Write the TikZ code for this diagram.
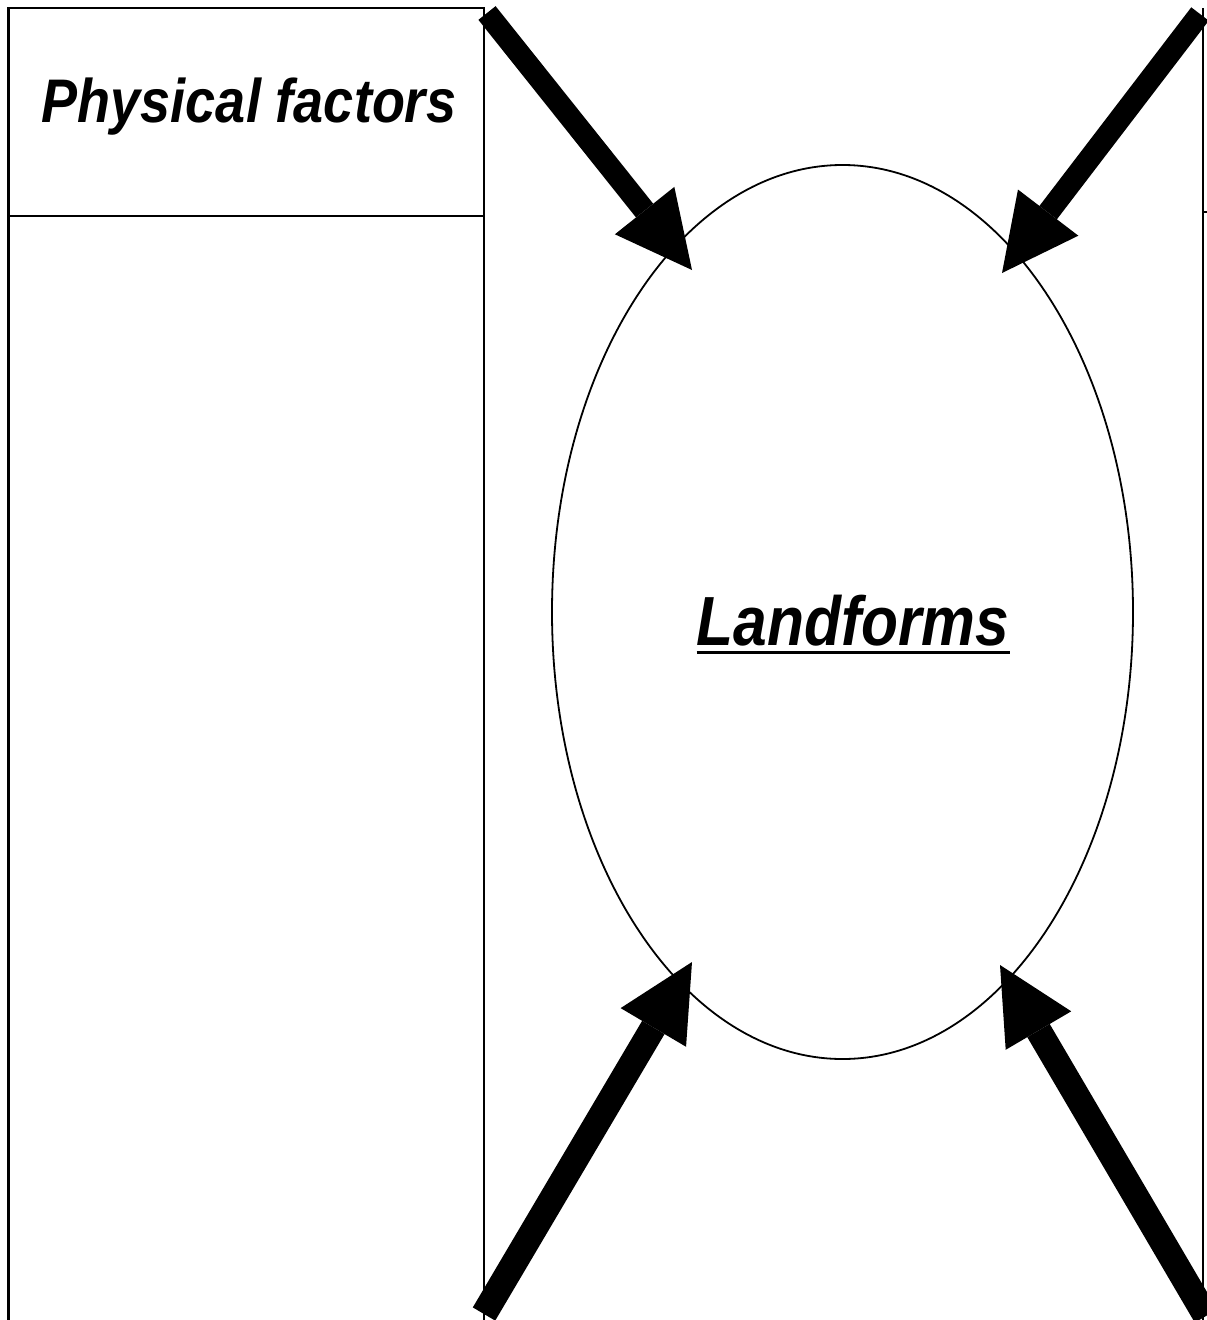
\documentclass[tikz,border=0pt]{standalone}
\usepackage{fontspec}
\setmainfont{Liberation Sans}
\usetikzlibrary{shapes.geometric,arrows.meta}
\tikzset{
  frame/.style={line width=2.8pt},
  bigarrow/.style={line width=22pt,-{Triangle[length=76pt,width=76pt,line width=0pt]}},
  label/.style={inner sep=0pt,font=\bfseries\itshape},
}
\begin{document}
\begin{tikzpicture}[x=1pt,y=-1pt]
\useasboundingbox (0,0) rectangle (1207,1320);
% left frame
\draw[frame] (8.5,1322) -- (8.5,8) -- (484,8) -- (484,1322);
\draw[frame] (8.5,216) -- (484,216);
% right line
\draw[line width=2.2pt] (1203,8) -- (1203,1322);
\draw[line width=2.5pt] (1203,212) -- (1209,212);
% header text
\node[label,anchor=base] (pf) at (249,122) {\scalebox{1}[1.14]{\fontsize{54}{60}\selectfont Physical factors}};
% ellipse
\node[ellipse,draw,line width=1.8pt,minimum width=581pt,minimum height=894pt,inner sep=0pt] (land) at (842.5,612) {};
\node[label,anchor=base] (lf) at (853,645) {\scalebox{1}[1.15]{\fontsize{60.5}{66}\selectfont Landforms}};
\draw[line width=3pt] (lf.base west |- 0,652) -- (lf.base east |- 0,652);
% arrow coordinates
\coordinate (s1) at (487,13);
\coordinate (t1) at (692,270);
\coordinate (s2) at (1200,14);
\coordinate (t2) at (1002,273);
\coordinate (s3) at (484,1314);
\coordinate (t3) at (692,962);
\coordinate (s4) at (1206,1316);
\coordinate (t4) at (1000,965);
\draw[bigarrow] (s1) -- (t1);
\draw[bigarrow] (s2) -- (t2);
\draw[bigarrow,line width=26pt] (s3) -- (t3);
\draw[bigarrow,line width=26pt] (s4) -- (t4);
\end{tikzpicture}
\end{document}
